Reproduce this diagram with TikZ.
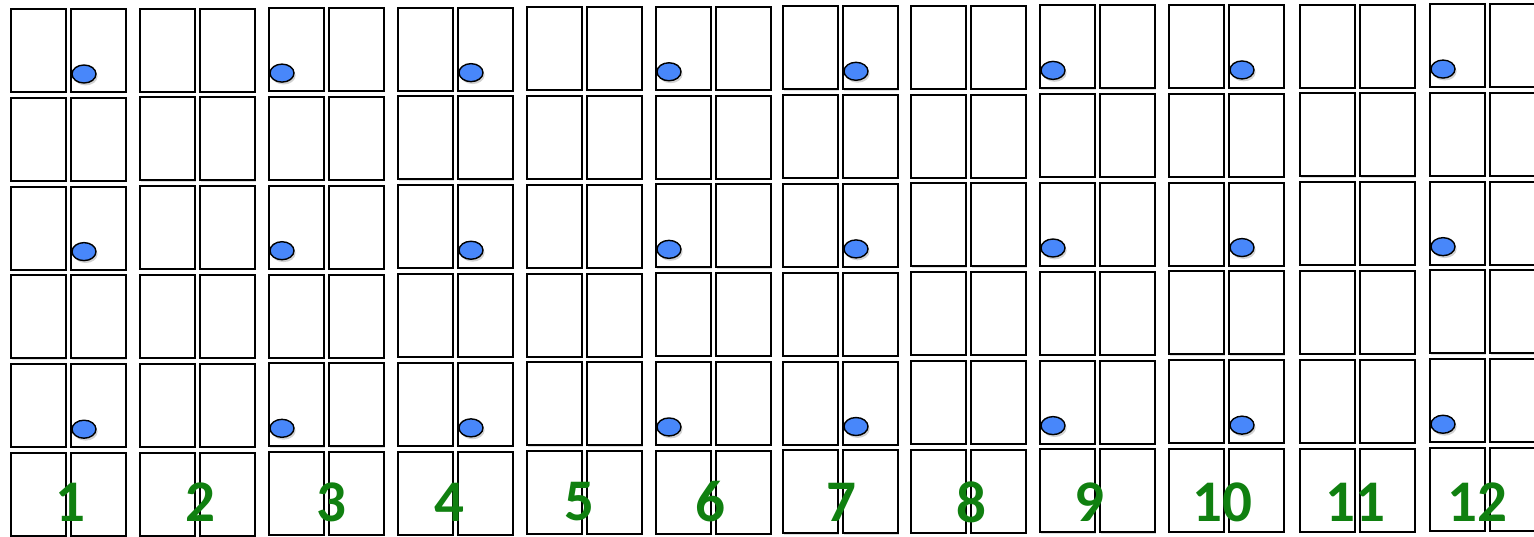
\documentclass[tikz,border=0pt]{standalone}
\usepackage{fontspec}
\setmainfont{Carlito}
\usepackage{xcolor}
\usetikzlibrary{shapes.geometric, shadows, calc}
\definecolor{numgreen}{RGB}{16,128,16}
\definecolor{dotblue}{RGB}{72,135,250}
\tikzstyle{cell} = [rectangle, draw=black, line width=1pt, fill=white, minimum width=27.5pt, minimum height=41.5pt, inner sep=0pt, anchor=north west, drop shadow={shadow xshift=0.6pt, shadow yshift=-0.6pt, opacity=0.25, fill=gray}]
\tikzstyle{marker} = [ellipse, draw=black, line width=0.7pt, fill=dotblue, minimum width=12pt, minimum height=9pt, inner sep=0pt, drop shadow={shadow xshift=0.8pt, shadow yshift=-1.2pt, opacity=0.35}]
\tikzstyle{colnum} = [text=numgreen, font=\fontsize{29.5}{29.5}\selectfont\bfseries, inner sep=0pt]

\begin{document}
\begin{tikzpicture}[x=0.5pt, y=-0.5pt]
    \useasboundingbox (0,0) rectangle (1534,536);
    % Cells
    \foreach \x [count=\c] in {9,138,267,396,525,654,781,909,1038,1167,1298,1428} {
        \foreach \r in {1,...,6} {
            \pgfmathsetmacro{\y}{8 + (\r-1)*88.8 - (\c-1)*0.45}
            \node (a\c-\r) [cell] at (\x+1,\y) {};
            \node (b\c-\r) [cell] at (\x+61,\y) {};
        }
    }
    
    % Markers
    \foreach \c/\s in {1/b,3/a,4/b,6/a,7/b,9/a,10/b,12/a} {
        \foreach \r in {1,3,5} {
            \node (dot\c-\r) [marker] at ($(\s\c-\r.south west)+(14,-19)$) {};
        }
    }
    
    % Numbers
    \foreach \x [count=\c] in {70,200,331,449,579,710,841,971,1089,1222,1355,1477}
        \node (num\c) [colnum] at (\x,502) {\c};
\end{tikzpicture}
\end{document}
